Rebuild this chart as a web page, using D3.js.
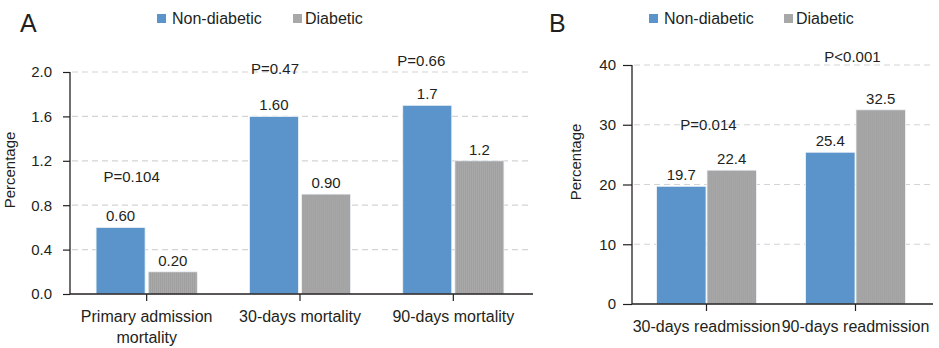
<!DOCTYPE html>
<html>
<head>
<meta charset="utf-8">
<script src="https://cdn.jsdelivr.net/npm/d3@7"></script>
<style>
  body { margin: 0; background: #fff; }
  svg { display: block; font-family: "Liberation Sans", Arial, sans-serif; }
</style>
</head>
<body>
<div id="chart"></div>
<script>
// series shared by both panels
const seriesNames = ["Non-diabetic", "Diabetic"];
const seriesColors = ["#5a94ca", "url(#grayTex)"];

// panel A - mortality
const mortalityCategories = ["Primary admission mortality", "30-days mortality", "90-days mortality"];
const mortalityNonDiabetic = [0.60, 1.60, 1.7];
const mortalityDiabetic = [0.20, 0.90, 1.2];
const mortalityNonDiabeticLabels = ["0.60", "1.60", "1.7"];
const mortalityDiabeticLabels = ["0.20", "0.90", "1.2"];
const mortalityTicks = [0.0, 0.4, 0.8, 1.2, 1.6, 2.0];
const mortalityPText = ["P=0.104", "P=0.47", "P=0.66"];
const mortalityPLevel = [1.01, 1.98, 2.05];

// panel B - readmission
const readmissionCategories = ["30-days readmission", "90-days readmission"];
const readmissionNonDiabetic = [19.7, 25.4];
const readmissionDiabetic = [22.4, 32.5];
const readmissionNonDiabeticLabels = ["19.7", "25.4"];
const readmissionDiabeticLabels = ["22.4", "32.5"];
const readmissionTicks = [0, 10, 20, 30, 40];
const readmissionPText = ["P=0.014", "P<0.001"];
const readmissionPLevel = [29.1, 40.5];

const W = 939, H = 348;
const ink = "#231f20";

const svg = d3.select("#chart").append("svg")
    .attr("width", W)
    .attr("height", H)
    .style("background", "#fff");

// fine texture of the grey bars
const defs = svg.append("defs");
const pat = defs.append("pattern")
    .attr("id", "grayTex")
    .attr("patternUnits", "userSpaceOnUse")
    .attr("width", 2)
    .attr("height", 2);
pat.append("rect").attr("width", 2).attr("height", 2).attr("fill", "#ababab");
pat.append("rect").attr("width", 1).attr("height", 2).attr("fill", "#9e9e9e");

function wrap(textSel, maxWidth, lineHeight) {
  textSel.each(function() {
    const text = d3.select(this);
    const words = text.text().split(/\s+/);
    const y = text.attr("y");
    const dy = parseFloat(text.attr("dy")) || 0;
    text.text(null);
    let line = [];
    let lineNo = 0;
    let tspan = text.append("tspan").attr("x", 0).attr("y", y).attr("dy", dy + "em");
    words.forEach(w => {
      line.push(w);
      tspan.text(line.join(" "));
      if (tspan.node().getComputedTextLength() > maxWidth && line.length > 1) {
        line.pop();
        tspan.text(line.join(" "));
        line = [w];
        lineNo++;
        tspan = text.append("tspan").attr("x", 0).attr("y", y)
            .attr("dy", (dy + lineNo * lineHeight) + "em").text(w);
      }
    });
  });
}

function drawPanel(cfg) {
  const g = svg.append("g");
  const rows = cfg.categories.map((c, i) => ({
    cat: c,
    vals: [cfg.nonDiabetic[i], cfg.diabetic[i]],
    labels: [cfg.ndLabels[i], cfg.dLabels[i]],
    p: cfg.pText[i],
    pLevel: cfg.pLevel[i]
  }));

  const x0 = d3.scaleBand()
      .domain(cfg.categories)
      .range([cfg.left, cfg.right])
      .paddingInner(cfg.pad)
      .paddingOuter(cfg.pad / 2);
  const x1 = d3.scaleBand()
      .domain(seriesNames)
      .range([0, x0.bandwidth()])
      .paddingInner(cfg.innerPad);
  const y = d3.scaleLinear()
      .domain([0, d3.max(cfg.ticks)])
      .range([cfg.bottom, cfg.top]);

  // dashed grid
  g.append("g")
      .selectAll("line")
      .data(cfg.ticks.filter(t => t > 0))
      .join("line")
      .attr("x1", cfg.left + 2)
      .attr("x2", cfg.right)
      .attr("y1", d => y(d))
      .attr("y2", d => y(d))
      .attr("stroke", "#d4d4d4")
      .attr("stroke-width", 1.2)
      .attr("stroke-dasharray", "6,4");

  // bars
  const groups = g.append("g")
      .selectAll("g")
      .data(rows)
      .join("g")
      .attr("transform", d => `translate(${x0(d.cat)},0)`);

  groups.selectAll("rect")
      .data(d => d.vals.map((v, i) => ({ s: seriesNames[i], v: v, i: i })))
      .join("rect")
      .attr("x", d => x1(d.s))
      .attr("y", d => y(d.v))
      .attr("width", x1.bandwidth())
      .attr("height", d => y(0) - y(d.v))
      .attr("fill", d => seriesColors[d.i])
      .attr("stroke", "#eef3f8")
      .attr("stroke-width", 0.8);

  groups.selectAll("text.val")
      .data(d => d.vals.map((v, i) => ({ s: seriesNames[i], v: v, lab: d.labels[i] })))
      .join("text")
      .attr("class", "val")
      .attr("x", d => x1(d.s) + x1.bandwidth() / 2)
      .attr("y", d => y(d.v) - 6)
      .attr("text-anchor", "middle")
      .style("font-size", "15px")
      .style("fill", ink)
      .text(d => d.lab);

  // p values
  g.append("g")
      .selectAll("text")
      .data(rows)
      .join("text")
      .attr("x", (d, i) => x0(d.cat) + x0.bandwidth() / 2 + cfg.pShift[i])
      .attr("y", d => y(d.pLevel))
      .attr("text-anchor", "middle")
      .style("font-size", "15px")
      .style("fill", ink)
      .text(d => d.p);

  // y axis
  const yAxis = g.append("g")
      .attr("transform", `translate(${cfg.left},0)`)
      .call(d3.axisLeft(y).tickValues(cfg.ticks)
          .tickFormat(cfg.tickFmt).tickSize(cfg.yTick).tickPadding(cfg.yPad));
  yAxis.select(".domain").attr("d", `M0,${cfg.top}V${cfg.bottom}`)
      .attr("stroke", ink).attr("stroke-width", 1.3);
  yAxis.selectAll(".tick line").attr("stroke", ink).attr("stroke-width", 1.2);
  yAxis.selectAll(".tick text")
      .style("font-size", "15px")
      .style("fill", ink)
      .style("font-family", "Liberation Sans, Arial, sans-serif");

  // x axis
  const xAxis = g.append("g")
      .attr("transform", `translate(0,${cfg.bottom})`)
      .call(d3.axisBottom(x0).tickSize(7).tickPadding(10).tickSizeOuter(0));
  xAxis.select(".domain").attr("d", `M${cfg.left},0H${cfg.right + 3}`)
      .attr("stroke", ink).attr("stroke-width", 1.3);
  xAxis.selectAll(".tick line").attr("stroke", ink).attr("stroke-width", 1.2);
  xAxis.selectAll(".tick text")
      .style("font-size", "16px")
      .style("fill", ink)
      .style("font-family", "Liberation Sans, Arial, sans-serif")
      .call(wrap, cfg.wrapWidth, 1.3);

  // y title
  g.append("text")
      .attr("transform", `translate(${cfg.titleX},${cfg.titleY}) rotate(-90)`)
      .attr("text-anchor", "middle")
      .style("font-size", "15px")
      .style("fill", ink)
      .text("Percentage");

  // panel letter
  g.append("text")
      .attr("x", cfg.letterX)
      .attr("y", 32)
      .style("font-size", "25px")
      .style("fill", ink)
      .text(cfg.letter);

  // legend
  const leg = g.append("g")
      .selectAll("g")
      .data(seriesNames)
      .join("g")
      .attr("transform", (d, i) => `translate(${cfg.legendX[i]},0)`);
  leg.append("rect")
      .attr("x", 0)
      .attr("y", 14)
      .attr("width", 9)
      .attr("height", 9)
      .attr("fill", (d, i) => i === 0 ? seriesColors[0] : "#a8a8a8");
  leg.append("text")
      .attr("x", (d, i) => i === 0 ? 15 : 12)
      .attr("y", 24)
      .style("font-size", "16px")
      .style("fill", ink)
      .text(d => d);
}

drawPanel({
  categories: mortalityCategories,
  nonDiabetic: mortalityNonDiabetic,
  diabetic: mortalityDiabetic,
  ndLabels: mortalityNonDiabeticLabels,
  dLabels: mortalityDiabeticLabels,
  ticks: mortalityTicks,
  tickFmt: d3.format(".1f"),
  pText: mortalityPText,
  pLevel: mortalityPLevel,
  pShift: [-15, -25, -32],
  left: 70, right: 530, top: 72, bottom: 294,
  pad: 0.34, innerPad: 0.06,
  yTick: 7, yPad: 11,
  titleX: 15, titleY: 170,
  letter: "A", letterX: 20,
  legendX: [157, 293],
  wrapWidth: 150
});

drawPanel({
  categories: readmissionCategories,
  nonDiabetic: readmissionNonDiabetic,
  diabetic: readmissionDiabetic,
  ndLabels: readmissionNonDiabeticLabels,
  dLabels: readmissionDiabeticLabels,
  ticks: readmissionTicks,
  tickFmt: d3.format("d"),
  pText: readmissionPText,
  pLevel: readmissionPLevel,
  pShift: [2, -3],
  left: 632, right: 930, top: 65, bottom: 304,
  pad: 0.33, innerPad: 0.02,
  yTick: 9, yPad: 7,
  titleX: 581, titleY: 162,
  letter: "B", letterX: 549,
  legendX: [649, 784],
  wrapWidth: 220
});
</script>
</body>
</html>
